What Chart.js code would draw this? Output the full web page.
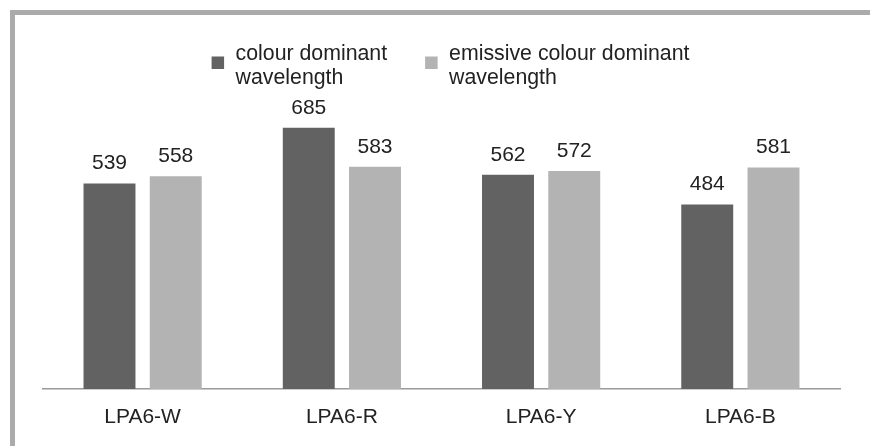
<!DOCTYPE html>
<html>
<head>
<meta charset="utf-8">
<script src="https://cdn.jsdelivr.net/npm/chart.js@4/dist/chart.umd.min.js"></script>
<style>
  html, body { margin: 0; padding: 0; background: #fff; overflow: hidden; }
  body { width: 870px; height: 446px; position: relative; }
  #frame { position: absolute; left: 10px; top: 10px; width: 900px; height: 500px;
           border-left: 5px solid #ababab; border-top: 5px solid #ababab; }
  #wrap { position: absolute; left: 0; top: 0; width: 870px; height: 446px; }
</style>
</head>
<body>
<div id="frame"></div>
<div id="wrap"><canvas id="c" width="870" height="446"></canvas></div>
<script>
const categories = ["LPA6-W", "LPA6-R", "LPA6-Y", "LPA6-B"];
const colourDominant = [539, 685, 562, 484];
const emissiveDominant = [558, 583, 572, 581];
const seriesLabels = [["colour dominant", "wavelength"], ["emissive colour dominant", "wavelength"]];
const seriesColors = ["#626262", "#b3b3b3"];

const FONT = "'Liberation Sans', Arial, sans-serif";

const valueLabels = {
  id: 'valueLabels',
  afterDatasetsDraw(chart) {
    const ctx = chart.ctx;
    ctx.save();
    ctx.font = "21px " + FONT;
    ctx.fillStyle = "#222";
    ctx.textAlign = "center";
    ctx.textBaseline = "alphabetic";
    chart.data.datasets.forEach((ds, di) => {
      chart.getDatasetMeta(di).data.forEach((bar, i) => {
        ctx.fillText(String(ds.data[i]), bar.x, bar.y - 14);
      });
    });
    ctx.restore();
  }
};

const customLegend = {
  id: 'customLegend',
  afterDraw(chart) {
    const ctx = chart.ctx;
    ctx.save();
    ctx.font = "21.3px " + FONT;
    const box = 12.5, gap = 11.5, spacing = 38;
    const widths = seriesLabels.map(lines => Math.max(...lines.map(l => ctx.measureText(l).width)));
    const itemW = widths.map(w => box + gap + w);
    const total = itemW.reduce((a, b) => a + b, 0) + spacing * (itemW.length - 1);
    let x = 450.5 - total / 2;
    const base1 = 60, lh = 23.5;
    seriesLabels.forEach((lines, i) => {
      ctx.fillStyle = seriesColors[i];
      ctx.fillRect(x, 56.5, box, box);
      ctx.fillStyle = "#222";
      ctx.textAlign = "left";
      ctx.textBaseline = "alphabetic";
      lines.forEach((l, j) => ctx.fillText(l, x + box + gap, base1 + j * lh));
      x += itemW[i] + spacing;
    });
    ctx.restore();
  }
};

new Chart(document.getElementById('c'), {
  type: 'bar',
  data: {
    labels: categories,
    datasets: [
      { label: seriesLabels[0].join(' '), data: colourDominant, backgroundColor: seriesColors[0] },
      { label: seriesLabels[1].join(' '), data: emissiveDominant, backgroundColor: seriesColors[1] }
    ]
  },
  options: {
    responsive: false,
    animation: false,
    devicePixelRatio: 1,
    layout: { padding: { left: 43, right: 30, top: 84, bottom: 0 } },
    datasets: { bar: { categoryPercentage: 0.665, barPercentage: 0.784 } },
    plugins: { legend: { display: false }, tooltip: { enabled: false } },
    scales: {
      x: {
        grid: { display: false, drawTicks: false },
        border: { display: true, color: '#9a9a9a', width: 1.5 },
        ticks: { color: '#222', font: { family: FONT, size: 21, lineHeight: 1.1 }, padding: 17 }
      },
      y: { display: false, min: 0, max: 800 }
    }
  },
  plugins: [valueLabels, customLegend]
});
</script>
</body>
</html>
